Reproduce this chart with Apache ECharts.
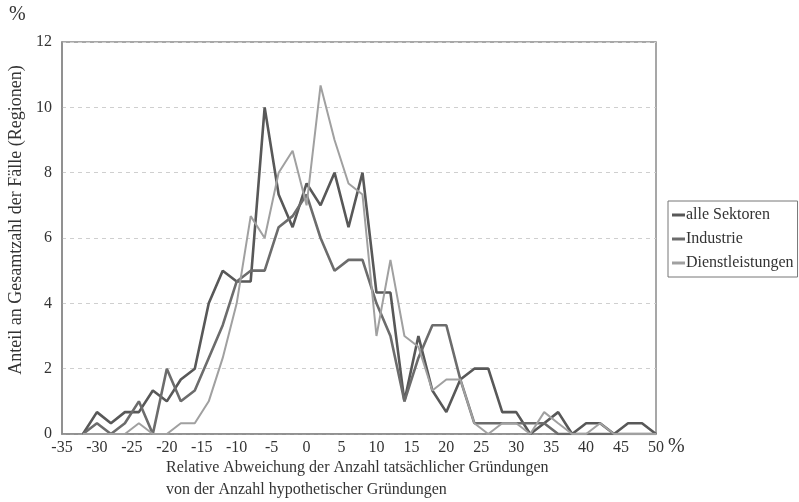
<!DOCTYPE html>
<html>
<head>
<meta charset="utf-8">
<script src="https://cdn.jsdelivr.net/npm/echarts@6/dist/echarts.min.js"></script>
<style>
  html, body { margin: 0; padding: 0; background: #fff; }
  #chart { width: 799px; height: 502px; }
</style>
</head>
<body>
<div id="chart"></div>
<script>
// Abweichung tatsaechlicher von hypothetischen Gruendungen

var abweichung = [-32, -30, -28, -26, -24, -22, -20, -18, -16, -14, -12, -10, -8, -6, -4, -2,
    0, 2, 4, 6, 8, 10, 12, 14, 16, 18, 20, 22, 24, 26, 28, 30, 32, 34, 36, 38, 40, 42, 44, 46, 48, 50];

var alleSektoren = [0, 0.67, 0.33, 0.67, 0.67, 1.33, 1, 1.67, 2, 4, 5, 4.67, 4.67, 10, 7.33, 6.33,
    7.67, 7, 8, 6.33, 8, 4.33, 4.33, 1, 3, 1.33, 0.67, 1.67, 2, 2, 0.67, 0.67, 0, 0.33, 0.67, 0, 0.33, 0.33, 0, 0.33, 0.33, 0];

var industrie = [0, 0.33, 0, 0.33, 1, 0, 2, 1, 1.33, 2.33, 3.33, 4.67, 5, 5, 6.33, 6.67,
    7.33, 6, 5, 5.33, 5.33, 4, 3, 1, 2.33, 3.33, 3.33, 1.67, 0.33, 0.33, 0.33, 0.33, 0.33, 0.33, 0, 0, 0, 0, 0, 0, 0, 0];

var dienstleistungen = [0, 0, 0, 0, 0.33, 0, 0, 0.33, 0.33, 1, 2.33, 4, 6.67, 6, 8, 8.67,
    7, 10.67, 9, 7.67, 7.33, 3, 5.33, 3, 2.67, 1.33, 1.67, 1.67, 0.33, 0, 0.33, 0.33, 0, 0.67, 0.33, 0, 0, 0.33, 0, 0, 0, 0];

var serienNamen = ['alle Sektoren', 'Industrie', 'Dienstleistungen'];

function paare(werte) {
    return abweichung.map(function (x, i) { return [x, werte[i]]; });
}

var schrift = '"Liberation Serif", "DejaVu Serif", serif';

var chart = echarts.init(document.getElementById('chart'));
chart.setOption({
    backgroundColor: '#fff',
    animation: false,
    color: ['#585858', '#6c6c6c', '#a0a0a0'],
    grid: {
        left: 62,
        top: 42,
        width: 594,
        height: 392,
        show: true,
        borderColor: '#8a8a8a',
        borderWidth: 1.5
    },
    legend: {
        orient: 'vertical',
        left: 668,
        top: 201,
        padding: [6, 4, 6, 4],
        itemGap: 8,
        itemWidth: 13,
        itemHeight: 3,
        icon: 'rect',
        borderColor: '#777',
        borderWidth: 1,
        data: serienNamen,
        textStyle: { fontFamily: schrift, fontSize: 16, color: '#333', padding: [0, 0, 0, -4] }
    },
    xAxis: {
        type: 'value',
        min: -35,
        max: 50,
        interval: 5,
        axisLine: { lineStyle: { color: '#8a8a8a', width: 1.5 } },
        axisTick: { show: false },
        splitLine: { show: false },
        axisLabel: { fontFamily: schrift, fontSize: 16, color: '#333', margin: 6 }
    },
    yAxis: {
        type: 'value',
        min: 0,
        max: 12,
        interval: 2,
        axisLine: { show: true, onZero: false, lineStyle: { color: '#8a8a8a', width: 1.5 } },
        axisTick: { show: false },
        splitLine: { lineStyle: { color: '#cfcfcf', type: [4, 4], width: 1 } },
        axisLabel: { fontFamily: schrift, fontSize: 16, color: '#333', margin: 10 }
    },
    graphic: [
        { type: 'text', x: 9, y: 5, style: { text: '%', font: '20px ' + schrift, fill: '#333' } },
        { type: 'text', x: 668, y: 437, style: { text: '%', font: '20px ' + schrift, fill: '#333' } },
        {
            type: 'text', x: 16, y: 220, rotation: Math.PI / 2,
            style: {
                text: 'Anteil an Gesamtzahl der Fälle (Regionen)',
                font: '18px ' + schrift, fill: '#333', align: 'center', verticalAlign: 'middle'
            }
        },
        {
            type: 'text', x: 166, y: 460,
            style: { text: 'Relative Abweichung der Anzahl tatsächlicher Gründungen', font: '16px ' + schrift, fill: '#333' }
        },
        {
            type: 'text', x: 166, y: 482,
            style: { text: 'von der Anzahl hypothetischer Gründungen', font: '16px ' + schrift, fill: '#333' }
        }
    ],
    series: [
        {
            name: serienNamen[0],
            type: 'line',
            showSymbol: false,
            lineStyle: { width: 2.6 },
            data: paare(alleSektoren)
        },
        {
            name: serienNamen[1],
            type: 'line',
            showSymbol: false,
            lineStyle: { width: 2.6 },
            data: paare(industrie)
        },
        {
            name: serienNamen[2],
            type: 'line',
            showSymbol: false,
            lineStyle: { width: 2 },
            data: paare(dienstleistungen)
        }
    ]
});
</script>
</body>
</html>
